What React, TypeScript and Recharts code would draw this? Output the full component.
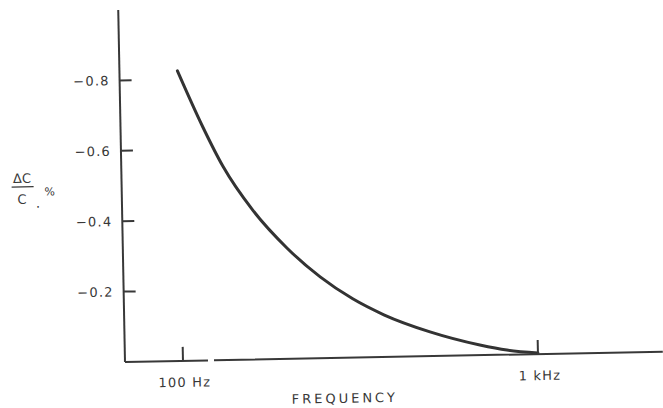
import { LineChart, Line, XAxis, YAxis } from 'recharts';

// frequency (Hz) and capacitance change (%)
const FREQS = [100, 117, 133, 160, 199, 246, 303, 370, 498, 687, 818, 1000];
const DELTA = [-0.824, -0.664, -0.549, -0.425, -0.315, -0.231, -0.167, -0.12, -0.069, -0.029, -0.013, -0.003];
const Y_TICKS = [-0.8, -0.6, -0.4, -0.2];
const X_TICKS = [100, 1000];
const X_TICK_LABELS = ['100 Hz', '1 kHz'];

const data = FREQS.map((f, i) => ({ f, v: DELTA[i] }));

const INK = '#383838';
const FONT = '"DejaVu Sans", sans-serif';

const YTick = ({ x, y, payload }: any) => (
  <g>
    <line x1={x} x2={x + 12} y1={y} y2={y} stroke={INK} strokeWidth={2} />
    <text x={x - 10} y={y} dy="0.36em" textAnchor="end" fontFamily={FONT} fontSize={13} letterSpacing={1.2} fill={INK}>
      {'\u2212' + Math.abs(payload.value).toFixed(1)}
    </text>
  </g>
);

const XTick = ({ x, y, payload, index }: any) => (
  <g>
    <line x1={x} x2={x} y1={y} y2={y - 14} stroke={INK} strokeWidth={2} />
    <text x={x + 1.5} y={y + 26} textAnchor="middle" fontFamily={FONT} fontSize={13} letterSpacing={1.2} fill={INK}>
      {X_TICK_LABELS[X_TICKS.indexOf(payload.value)] ?? X_TICK_LABELS[index]}
    </text>
  </g>
);

const YLabel = () => (
  <g fontFamily={FONT} fill={INK}>
    <text x={25.5} y={181} textAnchor="middle" fontSize={13}>ΔC</text>
    <line x1={15} x2={37} y1={185} y2={185} stroke={INK} strokeWidth={1.3} />
    <text x={25} y={202} textAnchor="middle" fontSize={13}>C</text>
    <text x={39} y={206} fontSize={13}>.</text>
    <text x={53} y={194} textAnchor="middle" fontSize={11}>%</text>
  </g>
);

const XLabel = () => (
  <text x={344} y={407} textAnchor="middle" fontFamily={FONT} fontSize={13} letterSpacing={3} fill={INK}>
    FREQUENCY
  </text>
);

export default function App() {
  return (
    <div style={{ position: 'absolute', left: 0, top: 0, width: 663, height: 408, overflow: 'hidden', background: '#fff' }}>
      <div style={{ width: 663, height: 412, transform: 'rotate(-1.1deg)', transformOrigin: '125px 362px' }}>
        <LineChart width={663} height={412} data={data} margin={{ top: 10, right: 0, bottom: 0, left: 0 }}>
          <XAxis
            dataKey="f"
            type="number"
            scale="log"
            domain={[68.66, 2249]}
            allowDataOverflow
            ticks={X_TICKS}
            interval={0}
            height={50}
            tickSize={0}
            tickMargin={0}
            tickLine={false}
            tick={<XTick />}
            axisLine={{ stroke: INK, strokeWidth: 2, strokeDasharray: '83 6 1000' }}
            label={<XLabel />}
          />
          <YAxis
            type="number"
            domain={[-1, 0]}
            reversed
            ticks={Y_TICKS}
            interval={0}
            width={125}
            tickSize={0}
            tickMargin={0}
            tickLine={false}
            tick={<YTick />}
            axisLine={{ stroke: INK, strokeWidth: 2 }}
            label={<YLabel />}
          />
          <Line
            type="monotone"
            dataKey="v"
            stroke="#333"
            strokeWidth={3}
            strokeLinecap="round"
            dot={false}
            activeDot={false}
            isAnimationActive={false}
          />
        </LineChart>
      </div>
    </div>
  );
}
